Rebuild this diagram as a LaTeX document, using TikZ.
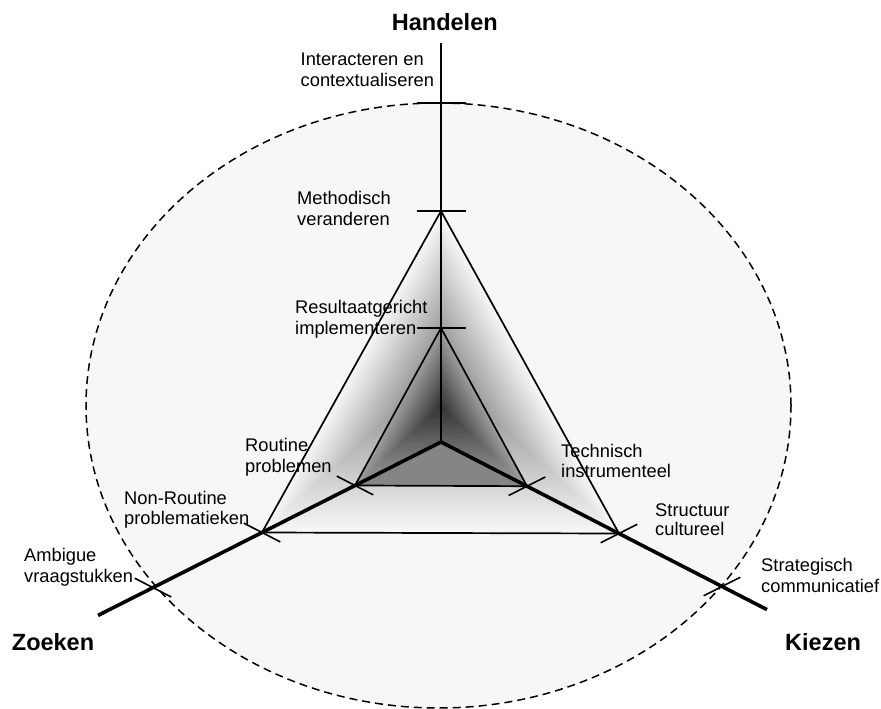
\documentclass[tikz,border=0pt]{standalone}
\usepackage{fontspec}
\setmainfont{Liberation Sans}
\usetikzlibrary{calc}
\definecolor{ellfill}{HTML}{F7F7F7}
\definecolor{coregray}{HTML}{858585}
\newcommand\twol[2]{\strut #1\\\strut #2}
\begin{document}
\begin{tikzpicture}[x=1pt,y=-1pt,
  thin line/.style={line width=1.7pt},
  thick axis/.style={line width=3.6pt},
  tickmark/.style={line width=1.6pt},
  lab/.style={anchor=north west, inner sep=0pt, align=left, font=\fontsize{18.3}{20.6}\selectfont},
  title/.style={anchor=base west, inner sep=0pt, font=\fontsize{23.5}{26}\selectfont\bfseries}]
\useasboundingbox (0,0) rectangle (881,709);

% coordinates
\coordinate (O) at (441,442);
\coordinate (Top) at (441,43);
\coordinate (LE) at (98,615.4);
\coordinate (RE) at (767,609.6);
\coordinate (EA) at (441,103);
\coordinate (OA) at (441,211);
\coordinate (IA) at (441,328);
\coordinate (R) at ($(O)!0.2507!(LE)$);
\coordinate (NR) at ($(O)!0.5219!(LE)$);
\coordinate (AM) at ($(O)!0.8397!(LE)$);
\coordinate (T) at ($(O)!0.2638!(RE)$);
\coordinate (S) at ($(O)!0.5460!(RE)$);
\coordinate (ST) at ($(O)!0.8620!(RE)$);
\coordinate (Co) at (441,372);
\coordinate (Ci) at (441,407);

% ellipse fill
\path[fill=ellfill] (438.5,405.5) ellipse [x radius=352.5pt, y radius=302.5pt];

% outer gradient triangle
\foreach \i in {0,...,59} {
  \pgfmathsetmacro\gs{1-\i/60}
  \pgfmathsetmacro\gp{3+48*\i/60}
  \fill[black!\gp] ($(Co)!\gs!(OA)$) -- ($(Co)!\gs!(NR)$) -- ($(Co)!\gs!(S)$) -- cycle;
}
% inner gradient triangle
\foreach \i in {0,...,59} {
  \pgfmathsetmacro\gs{1-\i/60}
  \pgfmathsetmacro\gp{38+42*\i/60}
  \fill[black!\gp] ($(Ci)!\gs!(IA)$) -- ($(Ci)!\gs!(R)$) -- ($(Ci)!\gs!(T)$) -- cycle;
}
% core triangle
\fill[coregray] (O) -- (R) -- (T) -- cycle;

% ellipse outline
\draw[line width=1.5pt, dash pattern=on 8pt off 5pt] (438.5,405.5) ellipse [x radius=352.5pt, y radius=302.5pt];

% triangle outlines
\draw[thin line, line join=miter] (OA) -- (NR) -- (S) -- cycle;
\draw[thin line, line join=miter] (IA) -- (R) -- (T) -- cycle;

% axes
\draw[thin line] (O) -- (Top);
\draw[thick axis] (O) -- (LE);
\draw[thick axis] (O) -- (RE);

% ticks vertical
\foreach \c in {EA,OA,IA}
  \draw[tickmark] ([xshift=-24.5pt]\c) -- ([xshift=24.5pt]\c);
% ticks left axis (parallel to right axis)
\foreach \c in {R,NR,AM}
  \draw[tickmark] ([shift={(-18.23,-9.37)}]\c) -- ([shift={(18.23,9.37)}]\c);
% ticks right axis (parallel to left axis)
\foreach \c in {T,S,ST}
  \draw[tickmark] ([shift={(-18.30,9.25)}]\c) -- ([shift={(18.30,-9.25)}]\c);

% labels
\node[lab] (l1) at (300.5,51.2) {\twol{Interacteren en}{contextualiseren}};
\node[lab] (l2) at (297,189.8) {\twol{Methodisch}{veranderen}};
\node[lab] (l3) at (295,298.8) {\twol{Resultaatgericht}{implementeren}};
\node[lab] (l4) at (245,437.3) {\twol{Routine}{problemen}};
\node[lab] (l5) at (124,489.5) {\twol{Non-Routine}{problematieken}};
\node[lab] (l6) at (24,547.2) {\twol{Ambigue}{vraagstukken}};
\node[lab] (l7) at (561,442.7) {\twol{Technisch}{instrumenteel}};
\node[lab, font=\fontsize{18.3}{16}\selectfont] (l8) at (655,503.8) {\twol{Structuur}{cultureel}};
\node[lab] (l9) at (761,557.2) {\twol{Strategisch}{communicatief}};

\node[title] (h) at (391.7,30.7) {Handelen};
\node[title] (z) at (11.7,650.7) {Zoeken};
\node[title] (k) at (785,650.7) {Kiezen};
\end{tikzpicture}
\end{document}
